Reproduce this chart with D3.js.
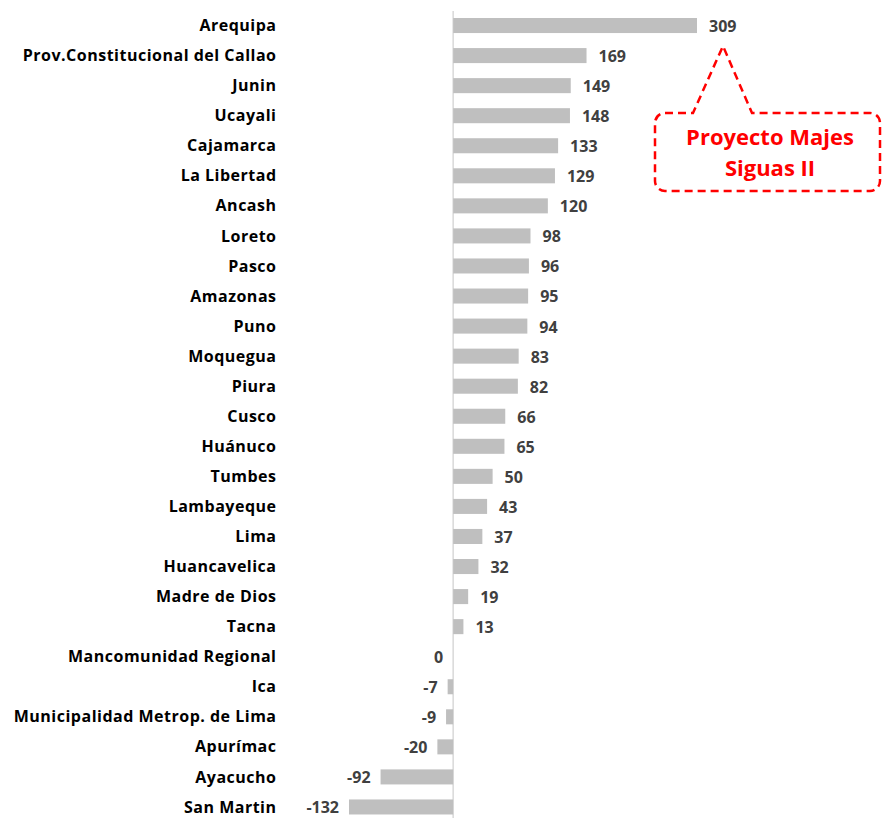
<!DOCTYPE html>
<html><head><meta charset="utf-8">
<script src="https://cdn.jsdelivr.net/npm/d3@7"></script>
<style>body{margin:0;background:#fff}svg{display:block}</style>
</head><body>
<script>
const categories = ["Arequipa","Prov.Constitucional del Callao","Junin","Ucayali","Cajamarca","La Libertad","Ancash","Loreto","Pasco","Amazonas","Puno","Moquegua","Piura","Cusco","Huánuco","Tumbes","Lambayeque","Lima","Huancavelica","Madre de Dios","Tacna","Mancomunidad Regional","Ica","Municipalidad Metrop. de Lima","Apurímac","Ayacucho","San Martin"];
const values = [309,169,149,148,133,129,120,98,96,95,94,83,82,66,65,50,43,37,32,19,13,0,-7,-9,-20,-92,-132];
const calloutLines = ["Proyecto Majes","Siguas II"];

const W = 882, H = 818;
const svg = d3.select("body").append("svg").attr("width", W).attr("height", H);
const font = "'Open Sans', sans-serif";

const x = d3.scaleLinear().domain([-132, 309]).range([349, 697]);
const y = d3.scaleBand().domain(categories).range([10.5, 822]).paddingInner(0.5).paddingOuter(0.25);

// zero axis line
svg.append("line").attr("x1", x(0)).attr("x2", x(0)).attr("y1", 11).attr("y2", H)
  .attr("stroke", "#d9d9d9").attr("stroke-width", 1.5);

svg.selectAll("rect.bar").data(values).join("rect").attr("class","bar")
  .attr("x", d => Math.min(x(0), x(d)))
  .attr("width", d => Math.abs(x(d) - x(0)))
  .attr("y", (d,i) => y(categories[i]))
  .attr("height", y.bandwidth())
  .attr("fill", "#bfbfbf");

// category labels
svg.selectAll("text.cat").data(categories).join("text").attr("class","cat")
  .attr("x", 276.5).attr("y", d => y(d) + y.bandwidth()/2)
  .attr("dy", "0.35em").attr("text-anchor", "end")
  .attr("font-family", font).attr("font-weight", "bold").attr("font-size", 16)
  .attr("letter-spacing", 0.5)
  .attr("fill", "#000").text(d => d);

// value labels
svg.selectAll("text.val").data(values).join("text").attr("class","val")
  .attr("x", d => d > 0 ? x(d) + 12 : x(d) - 10)
  .attr("y", (d,i) => y(categories[i]) + y.bandwidth()/2 + 1)
  .attr("dy", "0.34em")
  .attr("text-anchor", d => d > 0 ? "start" : "end")
  .attr("font-family", font).attr("font-weight", "bold").attr("font-size", 16)
  .attr("fill", "#404040").text(d => d);

// callout
const bx0 = 655, by0 = 113, bx1 = 880, by1 = 191, r = 10;
const tip = [723, 46];
const p = d3.path();
p.moveTo(bx0 + r, by0);
p.lineTo(693, by0);
p.lineTo(tip[0], tip[1]);
p.lineTo(752, by0);
p.lineTo(bx1 - r, by0);
p.arcTo(bx1, by0, bx1, by0 + r, r);
p.lineTo(bx1, by1 - r);
p.arcTo(bx1, by1, bx1 - r, by1, r);
p.lineTo(bx0 + r, by1);
p.arcTo(bx0, by1, bx0, by1 - r, r);
p.lineTo(bx0, by0 + r);
p.arcTo(bx0, by0, bx0 + r, by0, r);
p.closePath();
svg.append("path").attr("d", p.toString()).attr("fill", "#fff")
  .attr("stroke", "#ff0000").attr("stroke-width", 2.5).attr("stroke-dasharray", "8,5");

svg.selectAll("text.call").data(calloutLines).join("text").attr("class","call")
  .attr("x", 770).attr("y", (d,i) => 145 + i*31)
  .attr("text-anchor", "middle")
  .attr("font-family", font).attr("font-weight", "bold").attr("font-size", 22)
  .attr("fill", "#ff0000").text(d => d);
</script>
</body></html>
